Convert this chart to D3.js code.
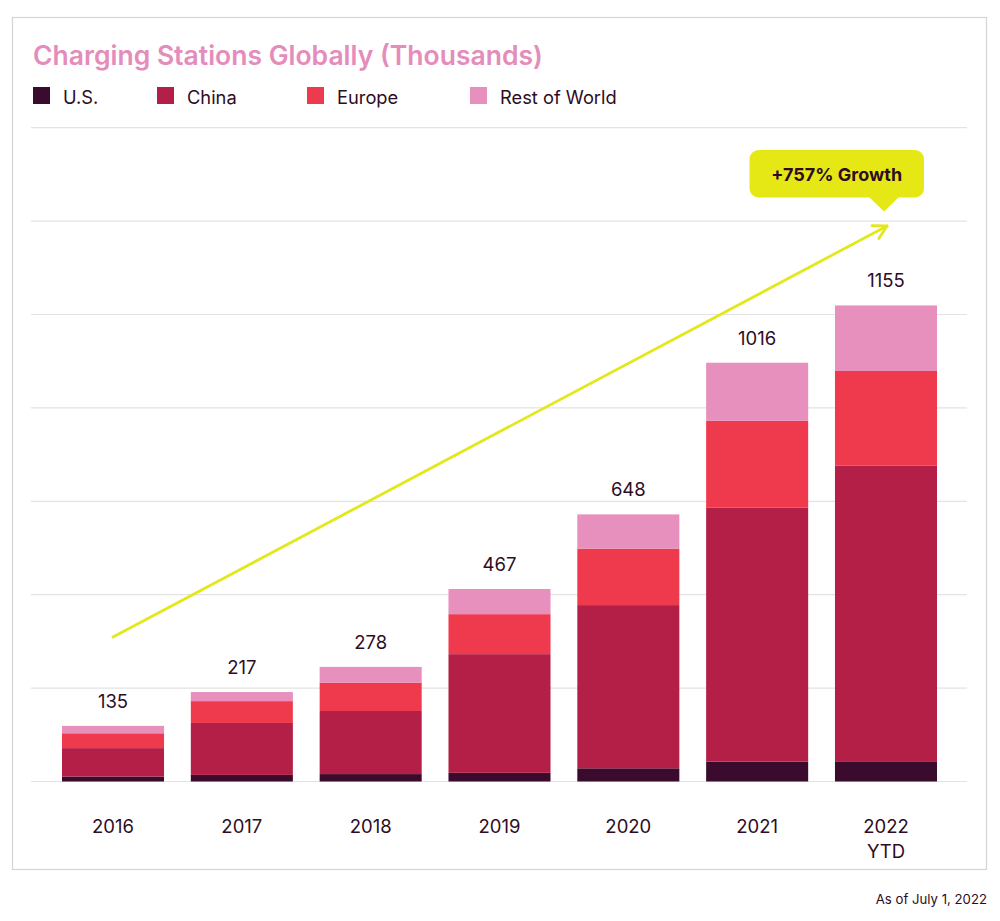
<!DOCTYPE html>
<html>
<head>
<meta charset="utf-8">
<script src="https://cdn.jsdelivr.net/npm/d3@7"></script>
<style>
  html, body { margin: 0; padding: 0; background: #fff; }
  svg { display: block; }
  text { font-family: "Inter", "Noto Sans", sans-serif; }
</style>
</head>
<body>
<svg id="chart" width="1000" height="921"></svg>
<script>
// ---- data ----
const years = ["2016", "2017", "2018", "2019", "2020", "2021", "2022"];
const yearLabels = [["2016"], ["2017"], ["2018"], ["2019"], ["2020"], ["2021"], ["2022", "YTD"]];
const seriesNames = ["U.S.", "China", "Europe", "Rest of World"];
const usValues     = [12, 16, 18, 21, 32, 48, 49];
const chinaValues  = [69, 126, 153, 288, 396, 617, 717];
const europeValues = [36, 53, 69, 97, 137, 210, 230];
const rowValues    = [18, 22, 38, 61, 83, 141, 159];
const totals       = [135, 217, 278, 467, 648, 1016, 1155];
const gridTicks    = [0, 226.6, 453.2, 679.8, 906.4, 1133, 1359.6, 1586.2];
const growthLabel  = "+757% Growth";
const titleText    = "Charging Stations Globally (Thousands)";
const footnote     = "As of July 1, 2022";

const colors = ["#3a0b2c", "#b31f47", "#ef3a4e", "#e78fbd"];

const rows = years.map((y, i) => ({
  year: y, "U.S.": usValues[i], "China": chinaValues[i],
  "Europe": europeValues[i], "Rest of World": rowValues[i], total: totals[i]
}));

const svg = d3.select("#chart");

// panel border
svg.append("rect").attr("x", 12.5).attr("y", 17.5).attr("width", 974).attr("height", 852)
  .attr("fill", "#fff").attr("stroke", "#d4d4d4").attr("stroke-width", 1.2);

// scales
const x = d3.scaleBand().domain(years).range([48.6, 950.4]).paddingInner(0.208).paddingOuter(0.104);
const y = d3.scaleLinear().domain([0, 1586.2]).range([781.5, 127.7]);

// gridlines
svg.append("g").selectAll("line").data(gridTicks).join("line")
  .attr("x1", 31).attr("x2", 967)
  .attr("y1", d => y(d)).attr("y2", d => y(d))
  .attr("stroke", "#e3e3e3").attr("stroke-width", 1.2);

// title
svg.append("text").attr("x", 33).attr("y", 65)
  .attr("font-size", 26.5).attr("font-weight", 600).attr("fill", "#e48cbb")
  .text(titleText);

// legend
const legendX = [33, 157, 307, 470];
const lg = svg.append("g").selectAll("g").data(seriesNames).join("g")
  .attr("transform", (d, i) => `translate(${legendX[i]},87)`);
lg.append("rect").attr("width", 17).attr("height", 17).attr("fill", (d, i) => colors[i]);
lg.append("text").attr("x", 30).attr("y", 17).attr("font-size", 18.3).attr("fill", "#2e0c23").text(d => d);

// stacked bars
const stack = d3.stack().keys(seriesNames)(rows);
svg.append("g").selectAll("g").data(stack).join("g")
  .attr("fill", (d, i) => colors[i])
  .selectAll("rect").data(d => d).join("rect")
  .attr("x", d => x(d.data.year))
  .attr("width", x.bandwidth())
  .attr("y", d => y(d[1]))
  .attr("height", d => y(d[0]) - y(d[1]));

// total labels
svg.append("g").selectAll("text").data(rows).join("text")
  .attr("x", d => x(d.year) + x.bandwidth() / 2)
  .attr("y", d => y(d.total) - 18)
  .attr("text-anchor", "middle").attr("font-size", 18.5).attr("fill", "#2e0c23")
  .text(d => d.total);

// x labels
const xl = svg.append("g").selectAll("text").data(years).join("text")
  .attr("x", d => x(d) + x.bandwidth() / 2)
  .attr("y", 833)
  .attr("text-anchor", "middle").attr("font-size", 18.5).attr("fill", "#2e0c23");
xl.selectAll("tspan").data((d, i) => yearLabels[i]).join("tspan")
  .attr("x", function() { return d3.select(this.parentNode).attr("x"); })
  .attr("dy", (d, i) => i === 0 ? 0 : 25)
  .text(d => d);

// growth arrow (from first bar to above last bar)
const ax1 = x("2016") + x.bandwidth() / 2, ay1 = 637;
const ax2 = x("2022") + x.bandwidth() / 2 + 1, ay2 = 226;
const yellow = "#e3e81c";
svg.append("line").attr("x1", ax1).attr("y1", ay1).attr("x2", ax2).attr("y2", ay2)
  .attr("stroke", yellow).attr("stroke-width", 2.8).attr("stroke-linecap", "round");
const ang = Math.atan2(ay1 - ay2, ax1 - ax2);
const al = 15, spread = Math.PI / 6.2;
const head = d3.path();
head.moveTo(ax2 + al * Math.cos(ang - spread), ay2 + al * Math.sin(ang - spread));
head.lineTo(ax2, ay2);
head.lineTo(ax2 + al * Math.cos(ang + spread), ay2 + al * Math.sin(ang + spread));
svg.append("path").attr("d", head.toString()).attr("fill", "none")
  .attr("stroke", yellow).attr("stroke-width", 2.8).attr("stroke-linecap", "round").attr("stroke-linejoin", "round");

// callout
const cx = 749.5, cy = 150, cw = 174.5, ch = 47.5, tipX = ax2 - 3;
svg.append("rect").attr("x", cx).attr("y", cy).attr("width", cw).attr("height", ch)
  .attr("rx", 9).attr("fill", "#e6e815");
svg.append("path").attr("d", `M${tipX - 15},${cy + ch - 0.5} L${tipX},${cy + ch + 14} L${tipX + 15},${cy + ch - 0.5} Z`)
  .attr("fill", "#e6e815");
svg.append("text").attr("x", cx + cw / 2).attr("y", 181)
  .attr("text-anchor", "middle").attr("font-size", 18).attr("font-weight", 700).attr("fill", "#2e0c23")
  .text(growthLabel);

// footnote
svg.append("text").attr("x", 987).attr("y", 904).attr("text-anchor", "end")
  .attr("font-size", 13.2).attr("fill", "#2e0c23").text(footnote);
</script>
</body>
</html>
